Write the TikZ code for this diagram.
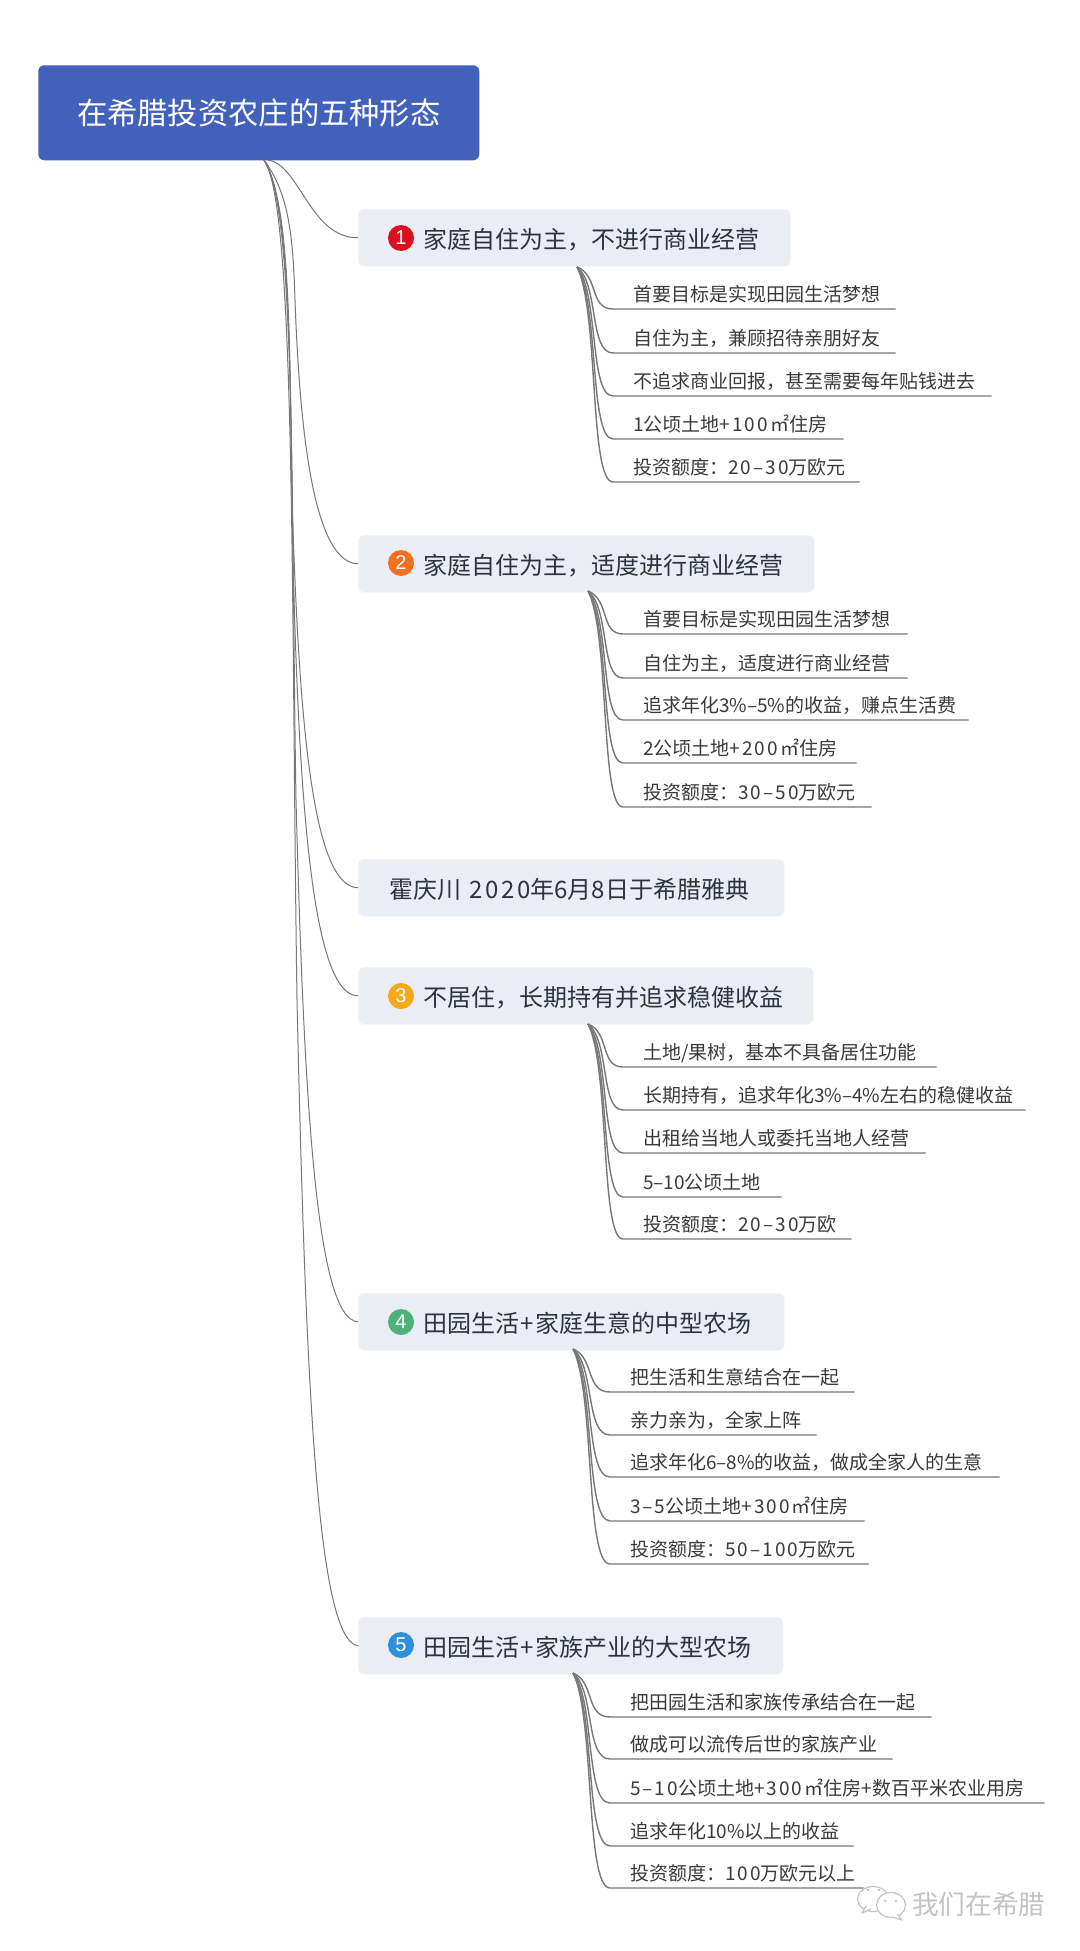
\documentclass[tikz,border=0pt]{standalone}
\usepackage{fontspec}
\usetikzlibrary{calc}
\setmainfont{Noto Sans CJK SC}
\newfontfamily\digitfont{Liberation Sans}
\newcommand{\ltn}[1]{{\addfontfeature{LetterSpace=11}#1}}
\definecolor{rootblue}{HTML}{4161BA}
\definecolor{boxgrey}{HTML}{EBEDF4}
\definecolor{boxtext}{HTML}{2E333D}
\definecolor{leaftext}{HTML}{3A3A3A}
\definecolor{wire}{HTML}{777777}
\definecolor{wmgrey}{HTML}{C4C4C4}
\definecolor{icred}{HTML}{D9101F}
\definecolor{icorange}{HTML}{F2701F}
\definecolor{icyellow}{HTML}{F5A81C}
\definecolor{icgreen}{HTML}{4DB27A}
\definecolor{icblue}{HTML}{2F8FD8}
\tikzset{
  rootbox/.style={fill=rootblue,rounded corners=4.5pt,inner sep=0pt,minimum width=330.75pt,minimum height=71.25pt,text=white,font=\fontsize{22.7pt}{26pt}\selectfont,anchor=north west},
  branchbox/.style={fill=boxgrey,rounded corners=4pt,inner sep=0pt,minimum height=42.75pt,text height=17.7pt,text depth=2.1pt,text=boxtext,font=\fontsize{18pt}{22pt}\selectfont,anchor=north west,align=left},
  leafnode/.style={inner sep=0pt,text height=13.5pt,text depth=5.6pt,text=leaftext,font=\fontsize{14.25pt}{17pt}\selectfont,anchor=south west,align=left},
  badge/.style={circle,inner sep=0pt,minimum size=19.5pt,text=white,font=\digitfont\fontsize{15pt}{15pt}\selectfont},
  trunk/.style={draw=wire,line width=0.75pt},
  twig/.style={draw=wire,line width=1.05pt},
}
% name, origin, line start x, line y, line end x, text
\newcommand{\leafitem}[6]{%
  \pgfmathsetlengthmacro{\wid}{(#5-#3)*0.75pt}%
  \node[leafnode,text width=\wid] (#1) at (#3,#4) {\hspace*{14.8pt}#6};
  \draw[twig] let \p1=(#2),\p2=(#1.south west),\n1={\y1-\y2} in
    (\p1) .. controls (\x1+16.5pt,\y1-0.2*\n1) and (\x1+9pt,\y2) .. (\p2) -- (#1.south east);
}
% name, left x, top y, right x, left pad, text
\newcommand{\branchitem}[6]{%
  \pgfmathsetlengthmacro{\wid}{(#4-#2)*0.75pt}%
  \node[branchbox,text width=\wid] (#1) at (#2,#3) {\hspace*{\dimexpr #5pt*3/4\relax}#6};
}
\begin{document}
\begin{tikzpicture}[x=0.75pt,y=-0.75pt]
\useasboundingbox (0,0) rectangle (1080,1951);
\fill[white] (0,0) rectangle (1080,1951);

\node[rootbox] (root) at (38,65) {在希腊投资农庄的五种形态};

\branchitem{b1}{358}{209}{790}{65}{家庭自住为主，不进行商业经营}
\branchitem{b2}{358}{535}{814}{65}{家庭自住为主，适度进行商业经营}
\branchitem{note}{358}{859}{784}{31}{霍庆川\ \ltn{2020}年\ltn{6}月\ltn{8}日于希腊雅典}
\branchitem{b3}{358}{967}{813}{65}{不居住，长期持有并追求稳健收益}
\branchitem{b4}{358}{1293}{784}{65}{田园生活\hspace{1pt}+\hspace{1.5pt}家庭生意的中型农场}
\branchitem{b5}{358}{1617}{783}{65}{田园生活\hspace{1pt}+\hspace{1.5pt}家族产业的大型农场}

\node[badge,fill=icred] (i1) at (401,238) {1};
\node[badge,fill=icorange] (i2) at (401,563) {2};
\node[badge,fill=icyellow] (i3) at (401,996) {3};
\node[badge,fill=icgreen] (i4) at (401,1322) {4};
\node[badge,fill=icblue] (i5) at (401,1645) {5};

% root connectors
\coordinate (ra) at (268,160);
\coordinate (rb) at (264,160);
\draw[trunk] (ra) .. controls (300,165) and (310,238) .. (b1.west);
\draw[trunk] (rb) .. controls (290,195) and (293,240) .. (295,300)
  .. controls (300,440) and (315,563) .. (b2.west);
\draw[trunk] (rb) .. controls (292,205) and (289,350) .. (292,500)
  .. controls (299,720) and (312,887) .. (note.west);
\draw[trunk] (rb) .. controls (292,205) and (290,380) .. (293,560)
  .. controls (299,800) and (312,996) .. (b3.west);
\draw[trunk] (rb) .. controls (296,205) and (291,500) .. (296,800)
  .. controls (304,1100) and (316,1320) .. (b4.west);
\draw[trunk] (rb) .. controls (296,205) and (291,600) .. (297,1000)
  .. controls (306,1400) and (318,1640) .. (b5.west);

% group 1
\coordinate (o1) at (577,267);
\leafitem{a1}{o1}{613}{309}{895}{首要目标是实现田园生活梦想}
\leafitem{a2}{o1}{613}{353}{895}{自住为主，兼顾招待亲朋好友}
\leafitem{a3}{o1}{613}{396}{991}{不追求商业回报，甚至需要每年贴钱进去}
\leafitem{a4}{o1}{613}{439}{843}{\ltn{1}公顷土地\ltn{+100㎡}住房}
\leafitem{a5}{o1}{613}{482}{859}{投资额度：\ltn{20–30}万欧元}

% group 2
\coordinate (o2) at (588,591);
\leafitem{c1}{o2}{623}{634}{907}{首要目标是实现田园生活梦想}
\leafitem{c2}{o2}{623}{678}{907}{自住为主，适度进行商业经营}
\leafitem{c3}{o2}{623}{720}{968}{追求年化3\%–5\%的收益，赚点生活费}
\leafitem{c4}{o2}{623}{763}{856}{\ltn{2}公顷土地\ltn{+200㎡}住房}
\leafitem{c5}{o2}{623}{807}{871}{投资额度：\ltn{30–50}万欧元}

% group 3
\coordinate (o3) at (588,1024);
\leafitem{d1}{o3}{623}{1067}{936}{土地\ltn{/}果树，基本不具备居住功能}
\leafitem{d2}{o3}{623}{1110}{1025}{长期持有，追求年化3\%–4\%左右的稳健收益}
\leafitem{d3}{o3}{623}{1153}{925}{出租给当地人或委托当地人经营}
\leafitem{d4}{o3}{623}{1197}{781}{5–10公顷土地}
\leafitem{d5}{o3}{623}{1239}{851}{投资额度：\ltn{20–30}万欧}

% group 4
\coordinate (o4) at (573,1349);
\leafitem{e1}{o4}{610}{1392}{854}{把生活和生意结合在一起}
\leafitem{e2}{o4}{610}{1435}{816}{亲力亲为，全家上阵}
\leafitem{e3}{o4}{610}{1477}{999}{追求年化6–8\%的收益，做成全家人的生意}
\leafitem{e4}{o4}{610}{1521}{864}{\ltn{3–5}公顷土地\ltn{+300㎡}住房}
\leafitem{e5}{o4}{610}{1564}{868}{投资额度：\ltn{50–100}万欧元}

% group 5
\coordinate (o5) at (573,1673);
\leafitem{f1}{o5}{610}{1717}{931}{把田园生活和家族传承结合在一起}
\leafitem{f2}{o5}{610}{1759}{892}{做成可以流传后世的家族产业}
\leafitem{f3}{o5}{610}{1803}{1044}{\ltn{5–10}公顷土地\ltn{+300㎡}住房\ltn{+}数百平米农业用房}
\leafitem{f4}{o5}{610}{1846}{853}{追求年化10\%以上的收益}
\leafitem{f5}{o5}{610}{1888}{863}{投资额度：\ltn{100}万欧元以上}

% watermark
\begin{scope}[draw=wmgrey,line width=0.9pt,line cap=round,line join=round]
  \filldraw[fill=white] (873,1899) ellipse [x radius=15.5,y radius=12.5];
  \filldraw[fill=white] (866,1906) -- (862,1913) -- (871,1909);
  \fill[white] (867,1905) -- (866,1909) -- (871,1907) -- cycle;
  \filldraw[fill=white] (891,1905) ellipse [x radius=14.5,y radius=12.5];
  \filldraw[fill=white] (897,1914) -- (902,1920) -- (892,1917);
  \fill[white] (896,1913) -- (897,1916) -- (892,1916) -- cycle;
  \fill[wmgrey] (868,1890) circle [radius=1.4] (879,1890) circle [radius=1.4]
     (885,1901) circle [radius=1.3] (896,1901) circle [radius=1.3];
\end{scope}
\node[inner sep=0pt,anchor=west,text=wmgrey,font=\fontsize{20pt}{24pt}\selectfont] (wm) at (912,1904) {我们在希腊};
\end{tikzpicture}
\end{document}
